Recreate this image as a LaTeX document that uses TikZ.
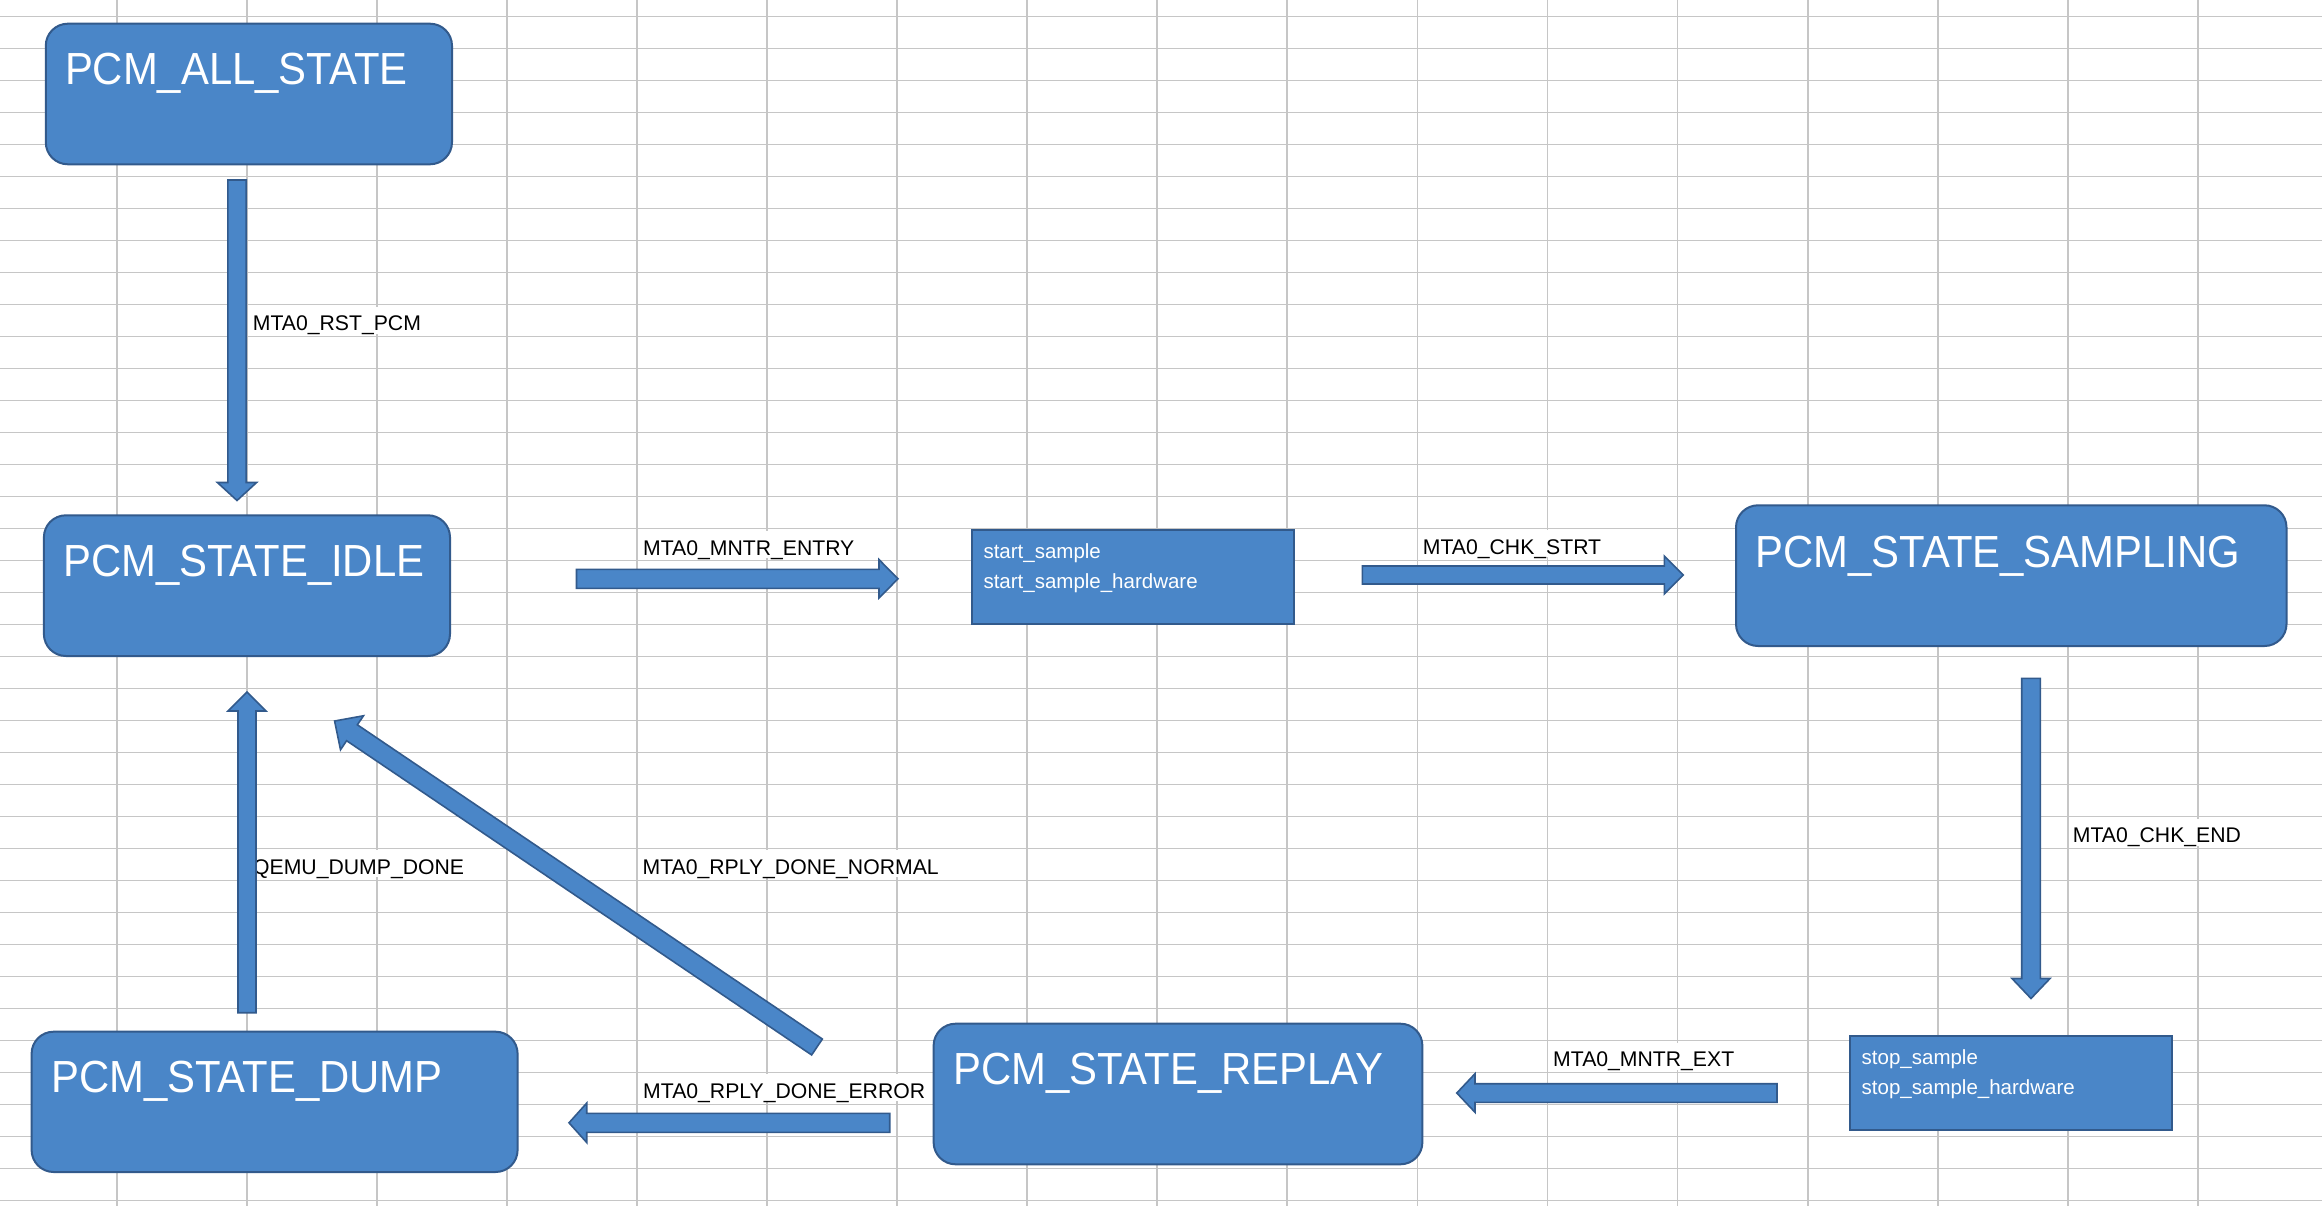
\documentclass[tikz,border=0pt]{standalone}
\usepackage{fontspec}
\setmainfont{Liberation Sans}
\newfontfamily\titlefont[FakeStretch=0.93]{Liberation Sans}
\usetikzlibrary{calc}
\definecolor{boxblue}{RGB}{74,134,200}
\definecolor{boxedge}{RGB}{50,90,140}
\definecolor{gridgray}{RGB}{198,198,198}
\tikzset{
 gridline/.style={draw=gridgray, line width=1.8pt},
 statebox/.style={draw=boxedge, fill=boxblue, line width=2pt, rounded corners=22pt, anchor=north west, inner sep=0pt},
 actbox/.style={draw=boxedge, fill=boxblue, line width=2pt, anchor=north west, inner sep=0pt},
 title/.style={text=white, inner sep=0pt, anchor=base west, font=\titlefont\fontsize{45}{54}\selectfont},
 acttext/.style={text=white, inner sep=0pt, anchor=base west},
 lbl/.style={fill=white, anchor=base west, inner xsep=4pt, inner ysep=0pt, text height=24pt, text depth=3pt, font=\fontsize{21.2}{25}\selectfont},
 barrow/.style={draw=boxedge, fill=boxblue, line width=1.6pt, line join=miter},
}
% #1 tail, #2 tip, #3 half shaft width, #4 half head width, #5 head length
\newcommand\blockarrow[5]{%
  \path ($(#2)!#5!(#1)$) coordinate (hb);
  \draw[barrow] ($(#1)!#3!90:(#2)$) -- ($(hb)!#3!90:(#2)$) -- ($(hb)!#4!90:(#2)$) -- (#2)
    -- ($(hb)!#4!-90:(#2)$) -- ($(hb)!#3!-90:(#2)$) -- ($(#1)!#3!-90:(#2)$) -- cycle;
}
\newcommand\acttwo[2]{\parbox[t]{300pt}{\raggedright\fontsize{20.5}{29.7}\selectfont #1\\#2}}
\begin{document}
\begin{tikzpicture}[x=1pt,y=-1pt]
\useasboundingbox (0,0) rectangle (2322,1206);
\fill[white] (0,0) rectangle (2322,1206);
% spreadsheet grid
\foreach \k in {0,...,37} \draw[gridline] (0,{16.5+32*\k}) -- (2322,{16.5+32*\k});
\foreach \k in {0,...,16} \draw[gridline] ({116.7+130.07*\k},0) -- ({116.7+130.07*\k},1206);

% transition labels
\node[lbl] (lrst) at (248.7,330.7) {MTA0\_RST\_PCM};
\node[lbl] (lentry) at (638.9,555) {MTA0\_MNTR\_ENTRY};
\node[lbl] (lstrt) at (1418.7,554.3) {MTA0\_CHK\_STRT};
\node[lbl] (lend) at (2068.7,842.7) {MTA0\_CHK\_END};
\node[lbl] (lqemu) at (249,874.3) {QEMU\_DUMP\_DONE};
\node[lbl] (lnormal) at (638.4,874.3) {MTA0\_RPLY\_DONE\_NORMAL};
\node[lbl] (lerror) at (639,1098.3) {MTA0\_RPLY\_DONE\_ERROR};
\node[lbl] (lext) at (1549,1066.7) {MTA0\_MNTR\_EXT};

% state boxes
\node[statebox, minimum width=406.2pt, minimum height=140.6pt] (all) at (44.8,22.7) {};
\node[statebox, minimum width=406.1pt, minimum height=140.7pt] (idle) at (42.9,514.3) {};
\node[statebox, minimum width=550.5pt, minimum height=140.7pt] (sampling) at (1735,504.3) {};
\node[statebox, minimum width=486pt, minimum height=140.3pt] (dump) at (30.6,1030.7) {};
\node[statebox, minimum width=488.8pt, minimum height=140.6pt] (replay) at (932.6,1022.7) {};
\node[actbox, minimum width=322pt, minimum height=94.3pt] (start) at (971,529) {};
\node[actbox, minimum width=322.6pt, minimum height=94.3pt] (stop) at (1848.7,1034.7) {};

\node[title] (tall) at ($(all.north west)+(20,62.3)$) {PCM\_ALL\_STATE};
\node[title] (tidle) at ($(idle.north west)+(20,62.4)$) {PCM\_STATE\_IDLE};
\node[title] (tsampling) at ($(sampling.north west)+(20.5,63)$) {PCM\_STATE\_SAMPLING};
\node[title] (tdump) at ($(dump.north west)+(20.5,62)$) {PCM\_STATE\_DUMP};
\node[title] (treplay) at ($(replay.north west)+(20.5,61.3)$) {PCM\_STATE\_REPLAY};
\node[acttext] (tstart) at ($(start.north west)+(12.3,29.3)$) {\acttwo{start\_sample}{start\_sample\_hardware}};
\node[acttext] (tstop) at ($(stop.north west)+(12.8,29.6)$) {\acttwo{stop\_sample}{stop\_sample\_hardware}};

% block arrows
\coordinate (a1s) at (237,180);      \coordinate (a1e) at (237,500.5);
\coordinate (a2s) at (247,1012.7);   \coordinate (a2e) at (247,692);
\coordinate (a3s) at (576.5,578.8);  \coordinate (a3e) at (898,578.8);
\coordinate (a4s) at (1362.3,575);   \coordinate (a4e) at (1683.3,575);
\coordinate (a5s) at (2031,678.3);   \coordinate (a5e) at (2031,998.5);
\coordinate (a6s) at (1777,1093);    \coordinate (a6e) at (1456.8,1093);
\coordinate (a7s) at (889.7,1122.8); \coordinate (a7e) at (569,1122.8);
\coordinate (a8s) at (817,1047);     \coordinate (a8e) at (334.6,721);
\blockarrow{a1s}{a1e}{9.2pt}{19.6pt}{18pt}
\blockarrow{a2s}{a2e}{9pt}{19pt}{19pt}
\blockarrow{a3s}{a3e}{9.5pt}{19.2pt}{19pt}
\blockarrow{a4s}{a4e}{9pt}{19pt}{19pt}
\blockarrow{a5s}{a5e}{9.3pt}{19pt}{20pt}
\blockarrow{a6s}{a6e}{9.3pt}{19.3pt}{18.2pt}
\blockarrow{a7s}{a7e}{9.5pt}{19.7pt}{17.7pt}
\blockarrow{a8s}{a8e}{9.6pt}{20.5pt}{21pt}
\end{tikzpicture}
\end{document}
